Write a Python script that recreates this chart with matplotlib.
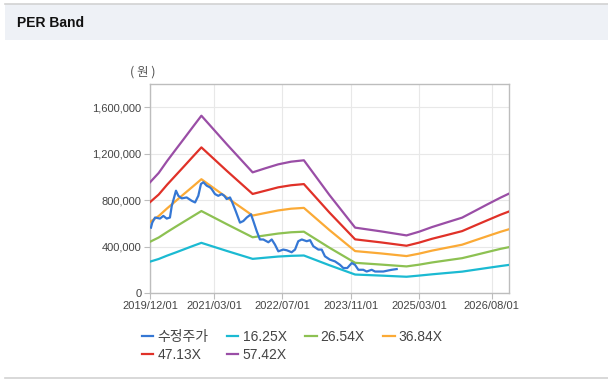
import matplotlib
matplotlib.use("Agg")
import matplotlib.pyplot as plt
import matplotlib.dates as mdates
from matplotlib.patches import Rectangle
from matplotlib.lines import Line2D
from matplotlib.ticker import FuncFormatter, FixedLocator
import pandas as pd

plt.rcParams['font.family'] = ['Liberation Sans', 'Noto Sans CJK KR', 'DejaVu Sans']

# ---- data ----
band_dates = ['2019-12-01', '2020-02-01', '2020-04-01', '2020-06-01', '2020-08-01', '2020-10-01',
              '2020-12-01', '2021-06-01', '2021-12-01', '2022-03-01', '2022-06-01', '2022-09-01',
              '2022-12-01', '2023-06-01', '2023-12-01', '2024-06-01', '2024-12-01', '2025-03-01',
              '2025-06-01', '2025-09-01', '2026-01-01', '2026-04-01', '2026-07-01', '2026-10-01',
              '2026-12-01']
band_1625 = [270000, 293000, 322000, 349000, 377000, 405000, 432000, 362000, 294000, 304000,
             314000, 320000, 323000, 239000, 159000, 150000, 140000, 150000, 161000, 171000,
             184000, 200000, 216000, 232000, 242000]
band_2654 = [441000, 478000, 525000, 571000, 616000, 661000, 706000, 592000, 480000, 496000,
             512000, 523000, 528000, 390000, 260000, 245000, 229000, 244000, 263000, 279000,
             300000, 326000, 353000, 380000, 395000]
band_3684 = [612000, 663000, 729000, 792000, 855000, 917000, 980000, 822000, 667000, 689000,
             711000, 726000, 733000, 542000, 361000, 341000, 318000, 339000, 365000, 387000,
             416000, 453000, 490000, 527000, 549000]
band_4713 = [782000, 848000, 933000, 1013000, 1093000, 1174000, 1254000, 1051000, 853000, 881000,
             910000, 928000, 938000, 693000, 462000, 436000, 407000, 434000, 467000, 495000,
             533000, 580000, 627000, 674000, 702000]
band_5742 = [953000, 1034000, 1137000, 1235000, 1332000, 1430000, 1527000, 1280000, 1039000, 1074000,
             1108000, 1131000, 1143000, 844000, 563000, 531000, 496000, 528000, 568000, 603000,
             649000, 706000, 764000, 821000, 856000]

price_dates = ['2019-12-08', '2019-12-17', '2020-01-06', '2020-02-10', '2020-03-05', '2020-03-29',
               '2020-04-21', '2020-05-04', '2020-06-03', '2020-06-20', '2020-07-14', '2020-08-18',
               '2020-09-23', '2020-10-17', '2020-11-09', '2020-11-28', '2020-12-15', '2021-01-08',
               '2021-01-31', '2021-02-12', '2021-03-08', '2021-03-31', '2021-04-25', '2021-05-13',
               '2021-05-30', '2021-06-23', '2021-07-09', '2021-08-02', '2021-09-02', '2021-09-26',
               '2021-10-20', '2021-11-19', '2021-12-06', '2021-12-30', '2022-01-22', '2022-02-15',
               '2022-03-23', '2022-04-16', '2022-05-09', '2022-06-02', '2022-07-07', '2022-08-01',
               '2022-09-05', '2022-09-29', '2022-10-22', '2022-11-16', '2022-12-21', '2023-01-14',
               '2023-02-06', '2023-03-14', '2023-04-07', '2023-04-30', '2023-06-05', '2023-07-11',
               '2023-08-15', '2023-09-08', '2023-10-06', '2023-11-07', '2023-11-30', '2023-12-24',
               '2024-01-28', '2024-02-21', '2024-03-28', '2024-04-21', '2024-05-26', '2024-06-19',
               '2024-07-24', '2024-08-18', '2024-09-22']
price = [563000, 606000, 650000, 641000, 664000, 641000,
         650000, 750000, 881000, 837000, 815000, 823000,
         794000, 780000, 837000, 939000, 954000, 924000,
         910000, 896000, 852000, 837000, 852000, 837000,
         809000, 823000, 780000, 707000, 606000, 620000,
         650000, 678000, 620000, 533000, 461000, 461000,
         437000, 461000, 417000, 359000, 374000, 368000,
         351000, 374000, 446000, 461000, 446000, 455000,
         403000, 374000, 374000, 316000, 287000, 272000,
         243000, 215000, 215000, 258000, 243000, 200000,
         200000, 185000, 200000, 185000, 185000, 185000,
         194000, 200000, 206000]

series_names = ['수정주가', '16.25X', '26.54X', '36.84X', '47.13X', '57.42X']
colors = ['#3577d4', '#1bbad2', '#8dc152', '#fbaa36', '#e03128', '#9a4ea6']

x_ticks = ['2019/12/01', '2021/03/01', '2022/07/01', '2023/11/01', '2025/03/01', '2026/08/01']
y_ticks = [0, 400000, 800000, 1200000, 1600000]

# ---- figure ----
W, H = 608, 388
fig = plt.figure(figsize=(W / 100, H / 100), dpi=100, facecolor='white')

# header band
fig.patches.append(Rectangle((5 / W, 1 - 40 / H), (W - 5) / W, 36 / H, transform=fig.transFigure,
                             facecolor='#eef1f6', edgecolor='none', zorder=0))
fig.add_artist(Line2D([5 / W, 1], [1 - 4 / H, 1 - 4 / H], transform=fig.transFigure,
                      color='#d2d2d2', lw=1.2))
fig.add_artist(Line2D([5 / W, 1], [1 - 378 / H, 1 - 378 / H], transform=fig.transFigure,
                      color='#d2d2d2', lw=1.2))
fig.text(17 / W, 1 - 23 / H, 'PER Band', fontsize=10, fontweight='bold', color='#111111',
         ha='left', va='center')

ax = fig.add_axes([150 / W, 1 - 293 / H, (509 - 150) / W, (293 - 84) / H])
ax.set_facecolor('white')

bd = pd.to_datetime(band_dates)
pdts = pd.to_datetime(price_dates)

handles = []
handles.append(ax.plot(pdts, price, color=colors[0], lw=1.6, zorder=6, label=series_names[0])[0])
for vals, c, n in zip([band_1625, band_2654, band_3684, band_4713, band_5742], colors[1:], series_names[1:]):
    handles.append(ax.plot(bd, vals, color=c, lw=1.6, zorder=5, label=n)[0])

ax.set_xlim(pd.Timestamp('2019-12-01'), pd.Timestamp('2026-12-01'))
ax.set_ylim(0, 1800000)

xt = [mdates.date2num(pd.Timestamp(t.replace('/', '-'))) for t in x_ticks]
ax.xaxis.set_major_locator(FixedLocator(xt))
ax.set_xticklabels(x_ticks)
ax.yaxis.set_major_locator(FixedLocator(y_ticks))
ax.yaxis.set_major_formatter(FuncFormatter(lambda v, p: f'{int(v):,}'))

ax.grid(True, color='#e8e8e8', lw=0.8, zorder=0)
ax.set_axisbelow(True)
for s in ax.spines.values():
    s.set_color('#bdbdbd')
    s.set_linewidth(1.0)
ax.tick_params(axis='both', colors='#bdbdbd', labelcolor='#444444', labelsize=8, length=4, width=0.8, pad=2)

fig.text(143 / W, 1 - 72 / H, '( 원 )', fontsize=9, color='#555555', ha='center', va='center',
         family=['Noto Sans CJK KR'])

# row-wise legend order: matplotlib fills columns first
order = [0, 4, 1, 5, 2, 3]
leg = fig.legend([handles[i] for i in order], [series_names[i] for i in order],
                 loc='upper left', bbox_to_anchor=(136 / W, 1 - 324 / H), ncol=4, frameon=False,
                 fontsize=10, handlelength=0.85, handletextpad=0.3, columnspacing=1.3,
                 labelspacing=0.3, borderaxespad=0)
for t in leg.get_texts():
    t.set_color('#444444')

fig.savefig('out.png', dpi=100, facecolor='white')
